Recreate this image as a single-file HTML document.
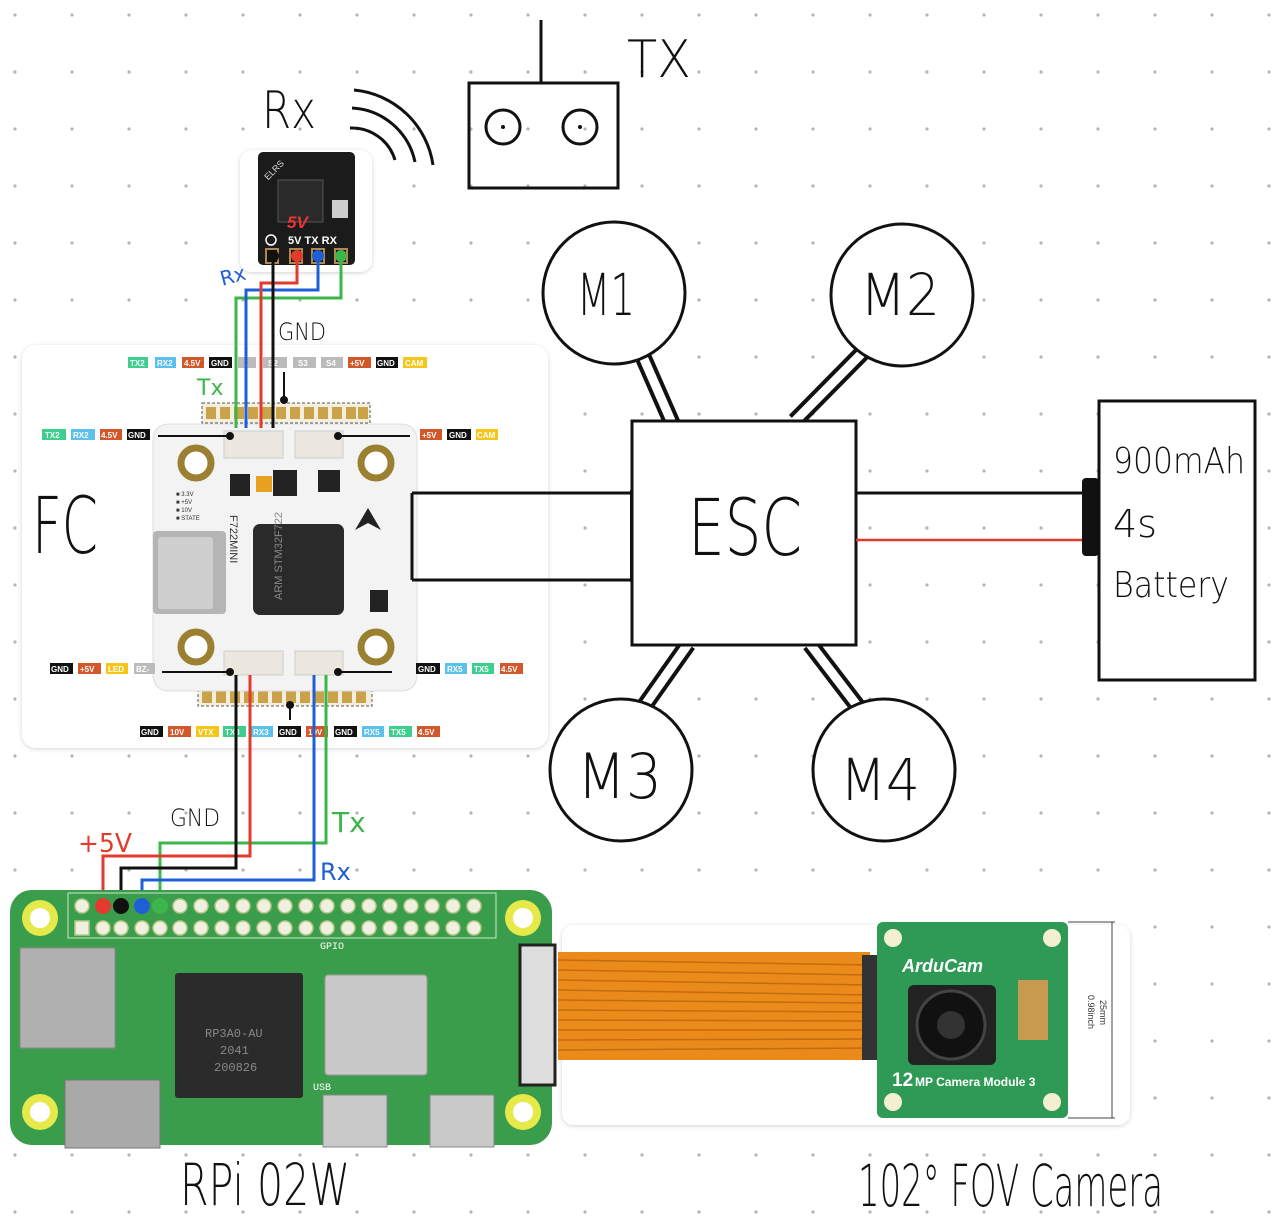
<!DOCTYPE html>
<html><head><meta charset="utf-8"><style>
html,body{margin:0;padding:0;background:#fff}
svg{display:block}
.h{font-family:"DejaVu Sans","Liberation Sans",sans-serif;fill:#111;font-weight:200}
.lb{font-family:"Liberation Sans",sans-serif;font-size:8px;fill:#fff;font-weight:bold}
</style></head><body>
<svg width="1280" height="1231" viewBox="0 0 1280 1231" xmlns="http://www.w3.org/2000/svg">
<defs>
<pattern id="dots" x="-13.5" y="-13.5" width="57" height="57" patternUnits="userSpaceOnUse">
<circle cx="28.5" cy="28.5" r="1.6" fill="#b5b5b5"/></pattern>
<filter id="sh" x="-5%" y="-5%" width="110%" height="110%"><feDropShadow dx="0" dy="1" stdDeviation="2" flood-color="#000" flood-opacity="0.18"/></filter>
</defs>
<rect width="1280" height="1231" fill="url(#dots)"/>

<line x1="541" y1="20" x2="541" y2="83" stroke="#111" stroke-width="3"/>
<rect x="469" y="83" width="149" height="105" fill="none" stroke="#111" stroke-width="3"/>
<circle cx="503" cy="127" r="17" fill="none" stroke="#111" stroke-width="3"/>
<circle cx="503" cy="127" r="2" fill="#111"/>
<circle cx="580" cy="127" r="17" fill="none" stroke="#111" stroke-width="3"/>
<circle cx="580" cy="127" r="2" fill="#111"/>
<text x="627" y="77" class="h" font-size="52" textLength="64" lengthAdjust="spacingAndGlyphs">TX</text>

<text x="262" y="128" class="h" font-size="52" textLength="54" lengthAdjust="spacingAndGlyphs">Rx</text>
<g fill="none" stroke="#111" stroke-width="3">
<path d="M350 128 A45 45 0 0 1 395 160"/>
<path d="M352 108 A68 68 0 0 1 415 162"/>
<path d="M354 90 A88 88 0 0 1 433 165"/>
</g>

<rect x="240" y="150" width="132" height="122" rx="12" fill="#fff" filter="url(#sh)"/>
<rect x="258" y="152" width="97" height="113" rx="5" fill="#1b1b1b"/>
<rect x="278" y="180" width="45" height="42" fill="#2a2a2a" stroke="#555"/>
<rect x="332" y="200" width="16" height="18" fill="#ccc"/>
<text x="262" y="178" font-family="Liberation Sans" font-size="9" fill="#ddd" transform="rotate(-45 268 172)">ELRS</text>
<text x="287" y="228" font-family="Liberation Sans" font-size="17" font-weight="bold" fill="#e33" font-style="italic">5V</text>
<text x="288" y="244" font-family="Liberation Sans" font-size="11" font-weight="bold" fill="#fff">5V TX RX</text>
<circle cx="271" cy="240" r="5" fill="none" stroke="#fff" stroke-width="1.5"/>
<g stroke="#b08850" stroke-width="2"><rect x="266" y="249" width="12" height="14" fill="#111"/><rect x="290" y="249" width="12" height="14" fill="#111"/><rect x="312" y="249" width="12" height="14" fill="#111"/><rect x="335" y="249" width="12" height="14" fill="#111"/></g>

<rect x="22" y="345" width="526" height="403" rx="14" fill="#fff" filter="url(#sh)"/>
<text x="32" y="553" class="h" font-size="78" textLength="66" lengthAdjust="spacingAndGlyphs">FC</text>
<rect x="202" y="403" width="168" height="20" fill="#f4eedd" stroke="#555" stroke-dasharray="3 2"/>
<g fill="#c9a24a">
<rect x="206" y="407" width="10" height="12"/><rect x="220" y="407" width="10" height="12"/><rect x="234" y="407" width="10" height="12"/><rect x="248" y="407" width="10" height="12"/><rect x="262" y="407" width="10" height="12"/><rect x="276" y="407" width="10" height="12"/><rect x="290" y="407" width="10" height="12"/><rect x="304" y="407" width="10" height="12"/><rect x="318" y="407" width="10" height="12"/><rect x="332" y="407" width="10" height="12"/><rect x="346" y="407" width="10" height="12"/><rect x="358" y="407" width="10" height="12"/>
</g>
<rect x="198" y="688" width="174" height="18" fill="#f4eedd" stroke="#555" stroke-dasharray="3 2"/>
<g fill="#c9a24a">
<rect x="202" y="691" width="10" height="12"/><rect x="216" y="691" width="10" height="12"/><rect x="230" y="691" width="10" height="12"/><rect x="244" y="691" width="10" height="12"/><rect x="258" y="691" width="10" height="12"/><rect x="272" y="691" width="10" height="12"/><rect x="286" y="691" width="10" height="12"/><rect x="300" y="691" width="10" height="12"/><rect x="314" y="691" width="10" height="12"/><rect x="328" y="691" width="10" height="12"/><rect x="342" y="691" width="10" height="12"/><rect x="356" y="691" width="10" height="12"/>
</g>
<path d="M170 424 H400 Q417 424 417 441 V674 Q417 691 400 691 H170 Q153 691 153 674 V441 Q153 424 170 424Z" fill="#f3f3f3" stroke="#ddd"/>
<rect x="224" y="431" width="59" height="27" fill="#ebe7de" stroke="#ccc"/>
<rect x="295" y="431" width="48" height="27" fill="#ebe7de" stroke="#ccc"/>
<rect x="224" y="651" width="59" height="24" fill="#ebe7de" stroke="#ccc"/>
<rect x="295" y="651" width="48" height="24" fill="#ebe7de" stroke="#ccc"/>
<g fill="#fff" stroke="#9a8030" stroke-width="7">
<circle cx="196" cy="463" r="15"/><circle cx="376" cy="463" r="15"/><circle cx="196" cy="647" r="15"/><circle cx="376" cy="647" r="15"/>
</g>
<rect x="153" y="531" width="73" height="83" rx="4" fill="#b5b5b5"/>
<rect x="158" y="537" width="55" height="72" rx="3" fill="#cfcfcf"/>
<rect x="253" y="524" width="91" height="91" rx="7" fill="#2a2a2a"/>
<text x="282" y="600" font-family="Liberation Sans" font-size="11" fill="#888" transform="rotate(-90 282 600)">ARM STM32F722</text>
<text x="230" y="515" font-family="Liberation Sans" font-size="11" fill="#333" transform="rotate(90 230 515)">F722MINI</text>
<rect x="230" y="474" width="20" height="22" fill="#222"/><rect x="256" y="476" width="16" height="16" fill="#e8a020"/><rect x="273" y="470" width="24" height="26" fill="#222"/><rect x="318" y="470" width="22" height="22" fill="#222"/><rect x="370" y="590" width="18" height="22" fill="#222"/>
<path d="M355 530 L368 508 L381 530 L368 523Z" fill="#222"/>
<text x="176" y="496" font-family="Liberation Sans" font-size="6" fill="#333">■ 3.3V</text>
<text x="176" y="504" font-family="Liberation Sans" font-size="6" fill="#333">■ +5V</text>
<text x="176" y="512" font-family="Liberation Sans" font-size="6" fill="#333">■ 10V</text>
<text x="176" y="520" font-family="Liberation Sans" font-size="6" fill="#333">■ STATE</text>
<g stroke="#111" stroke-width="2">
<line x1="158" y1="436" x2="230" y2="436"/><line x1="338" y1="436" x2="410" y2="436"/>
<line x1="162" y1="672" x2="230" y2="672"/><line x1="338" y1="672" x2="392" y2="672"/>
<line x1="284" y1="372" x2="284" y2="400"/><line x1="290" y1="705" x2="290" y2="720"/>
</g>
<g fill="#111"><circle cx="230" cy="436" r="4"/><circle cx="338" cy="436" r="4"/><circle cx="230" cy="672" r="4"/><circle cx="338" cy="672" r="4"/><circle cx="284" cy="400" r="4"/><circle cx="290" cy="705" r="4"/></g>

<g>
<rect x="128" y="357" width="20" height="11" fill="#3ecf8e"/><text x="130" y="366" class="lb">TX2</text>
<rect x="155" y="357" width="21" height="11" fill="#5bc0eb"/><text x="157" y="366" class="lb">RX2</text>
<rect x="182" y="357" width="22" height="11" fill="#d2572a"/><text x="184" y="366" class="lb">4.5V</text>
<rect x="209" y="357" width="23" height="11" fill="#111"/><text x="211" y="366" class="lb">GND</text>
<rect x="238" y="357" width="18" height="11" fill="#bbb"/><text x="244" y="366" class="lb">1</text>
<rect x="263" y="357" width="24" height="11" fill="#bbb"/><text x="268" y="366" class="lb">S2</text>
<rect x="293" y="357" width="23" height="11" fill="#bbb"/><text x="298" y="366" class="lb">S3</text>
<rect x="321" y="357" width="22" height="11" fill="#bbb"/><text x="326" y="366" class="lb">S4</text>
<rect x="348" y="357" width="23" height="11" fill="#d2572a"/><text x="350" y="366" class="lb">+5V</text>
<rect x="376" y="357" width="22" height="11" fill="#111"/><text x="377" y="366" class="lb">GND</text>
<rect x="403" y="357" width="24" height="11" fill="#f5c518"/><text x="405" y="366" class="lb">CAM</text>
<rect x="42" y="429" width="24" height="11" fill="#3ecf8e"/><text x="45" y="438" class="lb">TX2</text>
<rect x="71" y="429" width="24" height="11" fill="#5bc0eb"/><text x="73" y="438" class="lb">RX2</text>
<rect x="100" y="429" width="22" height="11" fill="#d2572a"/><text x="101" y="438" class="lb">4.5V</text>
<rect x="127" y="429" width="23" height="11" fill="#111"/><text x="128" y="438" class="lb">GND</text>
<rect x="420" y="429" width="22" height="11" fill="#d2572a"/><text x="422" y="438" class="lb">+5V</text>
<rect x="447" y="429" width="24" height="11" fill="#111"/><text x="449" y="438" class="lb">GND</text>
<rect x="476" y="429" width="22" height="11" fill="#f5c518"/><text x="477" y="438" class="lb">CAM</text>
<rect x="50" y="663" width="23" height="11" fill="#111"/><text x="51" y="672" class="lb">GND</text>
<rect x="78" y="663" width="23" height="11" fill="#d2572a"/><text x="80" y="672" class="lb">+5V</text>
<rect x="106" y="663" width="22" height="11" fill="#f5c518"/><text x="108" y="672" class="lb">LED</text>
<rect x="134" y="663" width="21" height="11" fill="#bbb"/><text x="136" y="672" class="lb">BZ-</text>
<rect x="416" y="663" width="24" height="11" fill="#111"/><text x="418" y="672" class="lb">GND</text>
<rect x="445" y="663" width="22" height="11" fill="#5bc0eb"/><text x="447" y="672" class="lb">RX5</text>
<rect x="472" y="663" width="22" height="11" fill="#3ecf8e"/><text x="474" y="672" class="lb">TX5</text>
<rect x="500" y="663" width="23" height="11" fill="#d2572a"/><text x="501" y="672" class="lb">4.5V</text>
<rect x="140" y="726" width="23" height="11" fill="#111"/><text x="141" y="735" class="lb">GND</text>
<rect x="168" y="726" width="23" height="11" fill="#d2572a"/><text x="170" y="735" class="lb">10V</text>
<rect x="196" y="726" width="23" height="11" fill="#f5c518"/><text x="198" y="735" class="lb">VTX</text>
<rect x="223" y="726" width="23" height="11" fill="#3ecf8e"/><text x="225" y="735" class="lb">TX3</text>
<rect x="251" y="726" width="22" height="11" fill="#5bc0eb"/><text x="253" y="735" class="lb">RX3</text>
<rect x="278" y="726" width="23" height="11" fill="#111"/><text x="279" y="735" class="lb">GND</text>
<rect x="306" y="726" width="22" height="11" fill="#d2572a"/><text x="308" y="735" class="lb">10V</text>
<rect x="334" y="726" width="23" height="11" fill="#111"/><text x="335" y="735" class="lb">GND</text>
<rect x="362" y="726" width="22" height="11" fill="#5bc0eb"/><text x="364" y="735" class="lb">RX5</text>
<rect x="389" y="726" width="23" height="11" fill="#3ecf8e"/><text x="391" y="735" class="lb">TX5</text>
<rect x="417" y="726" width="23" height="11" fill="#d2572a"/><text x="418" y="735" class="lb">4.5V</text>
</g>

<g fill="none" stroke-width="3">
<path d="M341 258 V298 H236 V428" stroke="#3cb54a"/>
<path d="M318 258 V290 H246 V428" stroke="#1f5fd6"/>
<path d="M297 258 V283 H261 V428" stroke="#e23b2e"/>
<path d="M273 258 V428" stroke="#111"/>
</g>
<g fill="#111"><circle cx="273" cy="256" r="6"/></g>
<circle cx="297" cy="256" r="6" fill="#e23b2e"/><circle cx="318" cy="256" r="6" fill="#1f5fd6"/><circle cx="341" cy="256" r="6" fill="#3cb54a"/>
<text x="220" y="283" font-family="DejaVu Sans" font-size="20" fill="#1f5fd6" transform="rotate(-15 232 276)">Rx</text>
<text x="278" y="340" class="h" font-size="24" textLength="48" lengthAdjust="spacingAndGlyphs">GND</text>
<text x="197" y="395" font-family="DejaVu Sans" font-size="22" fill="#3cb54a">Tx</text>

<g fill="none" stroke-width="3">
<path d="M326 675 V843 H160 V905" stroke="#3cb54a"/>
<path d="M250 675 V856 H103 V905" stroke="#e23b2e"/>
<path d="M236 675 V868 H121 V905" stroke="#111"/>
<path d="M314 675 V880 H142 V905" stroke="#1f5fd6"/>
</g>
<text x="170" y="826" class="h" font-size="24" textLength="50" lengthAdjust="spacingAndGlyphs">GND</text>
<text x="78" y="852" font-family="DejaVu Sans" font-size="26" fill="#e23b2e" textLength="54" lengthAdjust="spacingAndGlyphs">+5V</text>
<text x="332" y="832" font-family="DejaVu Sans" font-size="28" fill="#3cb54a">Tx</text>
<text x="320" y="880" font-family="DejaVu Sans" font-size="24" fill="#1f5fd6">Rx</text>

<g stroke="#111" stroke-width="3" fill="none">
<line x1="412" y1="493" x2="636" y2="493"/><line x1="412" y1="580" x2="636" y2="580"/>
<line x1="412" y1="493" x2="412" y2="580"/>
</g>
<rect x="630" y="490" width="10" height="92" fill="#111"/>

<g stroke-linecap="butt">
<line x1="640" y1="350" x2="672" y2="423" stroke="#111" stroke-width="17"/><line x1="640" y1="350" x2="672" y2="423" stroke="#fff" stroke-width="9"/>
<line x1="870" y1="345" x2="795" y2="421" stroke="#111" stroke-width="17"/><line x1="870" y1="345" x2="795" y2="421" stroke="#fff" stroke-width="9"/>
<line x1="688" y1="644" x2="640" y2="712" stroke="#111" stroke-width="17"/><line x1="688" y1="644" x2="640" y2="712" stroke="#fff" stroke-width="9"/>
<line x1="810" y1="644" x2="862" y2="712" stroke="#111" stroke-width="17"/><line x1="810" y1="644" x2="862" y2="712" stroke="#fff" stroke-width="9"/>
</g>
<g fill="#fff" stroke="#111" stroke-width="3">
<circle cx="614" cy="293" r="71"/><circle cx="902" cy="295" r="71"/><circle cx="621" cy="770" r="71"/><circle cx="884" cy="770" r="71"/>
</g>
<text x="577" y="315" class="h" font-size="58" textLength="58" lengthAdjust="spacingAndGlyphs">M1</text>
<text x="860" y="315" class="h" font-size="58" textLength="80" lengthAdjust="spacingAndGlyphs">M2</text>
<text x="577" y="798" class="h" font-size="62" textLength="85" lengthAdjust="spacingAndGlyphs">M3</text>
<text x="840" y="800" class="h" font-size="58" textLength="80" lengthAdjust="spacingAndGlyphs">M4</text>

<rect x="632" y="421" width="224" height="224" fill="#fff" stroke="#111" stroke-width="3"/>
<text x="688" y="555" class="h" font-size="78" textLength="114" lengthAdjust="spacingAndGlyphs">ESC</text>

<line x1="856" y1="493" x2="1088" y2="493" stroke="#111" stroke-width="3"/>
<line x1="856" y1="540" x2="1088" y2="540" stroke="#e23b2e" stroke-width="2.5"/>
<rect x="1082" y="478" width="17" height="78" rx="4" fill="#111"/>
<rect x="1099" y="401" width="156" height="279" fill="#fff" stroke="#111" stroke-width="3"/>
<text x="1113" y="473" class="h" font-size="36" textLength="132" lengthAdjust="spacingAndGlyphs">900mAh</text>
<text x="1113" y="537" class="h" font-size="38">4s</text>
<text x="1113" y="597" class="h" font-size="36" textLength="116" lengthAdjust="spacingAndGlyphs">Battery</text>

<rect x="10" y="890" width="542" height="255" rx="22" fill="#3a9d4b"/>
<rect x="68" y="893" width="428" height="45" fill="none" stroke="#cde8cc" stroke-width="1"/>
<g><circle cx="40" cy="918" r="18" fill="#e6e94a"/><circle cx="523" cy="918" r="18" fill="#e6e94a"/><circle cx="40" cy="1112" r="18" fill="#e6e94a"/><circle cx="523" cy="1112" r="18" fill="#e6e94a"/></g>
<g fill="#fff"><circle cx="40" cy="918" r="10"/><circle cx="523" cy="918" r="10"/><circle cx="40" cy="1112" r="10"/><circle cx="523" cy="1112" r="10"/></g>
<g fill="#f0f0e0" stroke="#b8c78a" stroke-width="1.5">
<circle cx="82" cy="906" r="7"/><circle cx="103" cy="906" r="7"/><circle cx="121" cy="906" r="7"/><circle cx="142" cy="906" r="7"/><circle cx="160" cy="906" r="7"/><circle cx="180" cy="906" r="7"/><circle cx="201" cy="906" r="7"/><circle cx="222" cy="906" r="7"/><circle cx="243" cy="906" r="7"/><circle cx="264" cy="906" r="7"/><circle cx="285" cy="906" r="7"/><circle cx="306" cy="906" r="7"/><circle cx="327" cy="906" r="7"/><circle cx="348" cy="906" r="7"/><circle cx="369" cy="906" r="7"/><circle cx="390" cy="906" r="7"/><circle cx="411" cy="906" r="7"/><circle cx="432" cy="906" r="7"/><circle cx="453" cy="906" r="7"/><circle cx="474" cy="906" r="7"/>
<rect x="75" y="921" width="14" height="14"/><circle cx="103" cy="928" r="7"/><circle cx="121" cy="928" r="7"/><circle cx="142" cy="928" r="7"/><circle cx="160" cy="928" r="7"/><circle cx="180" cy="928" r="7"/><circle cx="201" cy="928" r="7"/><circle cx="222" cy="928" r="7"/><circle cx="243" cy="928" r="7"/><circle cx="264" cy="928" r="7"/><circle cx="285" cy="928" r="7"/><circle cx="306" cy="928" r="7"/><circle cx="327" cy="928" r="7"/><circle cx="348" cy="928" r="7"/><circle cx="369" cy="928" r="7"/><circle cx="390" cy="928" r="7"/><circle cx="411" cy="928" r="7"/><circle cx="432" cy="928" r="7"/><circle cx="453" cy="928" r="7"/><circle cx="474" cy="928" r="7"/>
</g>
<circle cx="103" cy="906" r="8" fill="#e23b2e"/><circle cx="121" cy="906" r="8" fill="#111"/><circle cx="142" cy="906" r="8" fill="#1f5fd6"/><circle cx="160" cy="906" r="8" fill="#3cb54a"/>
<rect x="20" y="948" width="95" height="100" fill="#b0b0b0" stroke="#888"/>
<rect x="175" y="973" width="128" height="125" rx="3" fill="#2b2b2b"/>
<text x="205" y="1037" font-family="Liberation Mono" font-size="12" fill="#888">RP3A0-AU</text>
<text x="220" y="1054" font-family="Liberation Mono" font-size="12" fill="#888">2041</text>
<text x="214" y="1071" font-family="Liberation Mono" font-size="12" fill="#888">200826</text>
<rect x="325" y="975" width="102" height="100" rx="3" fill="#c8c8c8" stroke="#999"/>
<rect x="65" y="1080" width="95" height="68" fill="#a9a9a9" stroke="#777"/>
<rect x="323" y="1095" width="64" height="52" fill="#c9c9c9" stroke="#888"/>
<rect x="430" y="1095" width="64" height="52" fill="#c9c9c9" stroke="#888"/>
<rect x="520" y="945" width="35" height="140" fill="#ddd" stroke="#222" stroke-width="3"/>
<text x="320" y="949" font-family="Liberation Mono" font-size="10" fill="#fff">GPIO</text>
<text x="313" y="1090" font-family="Liberation Mono" font-size="10" fill="#fff">USB</text>
<text x="180" y="1205" class="h" font-size="58" textLength="170" lengthAdjust="spacingAndGlyphs">RPi 02W</text>

<rect x="562" y="925" width="568" height="200" rx="12" fill="#fff" filter="url(#sh)"/>
<rect x="558" y="952" width="312" height="108" fill="#e98a1a"/>
<g stroke="#c56a10" stroke-width="1.5">
<line x1="558" y1="960" x2="870" y2="965"/><line x1="558" y1="970" x2="870" y2="975"/><line x1="558" y1="980" x2="870" y2="985"/><line x1="558" y1="990" x2="870" y2="995"/><line x1="558" y1="1000" x2="870" y2="1003"/><line x1="558" y1="1010" x2="870" y2="1012"/><line x1="558" y1="1020" x2="870" y2="1021"/><line x1="558" y1="1030" x2="870" y2="1030"/><line x1="558" y1="1040" x2="870" y2="1039"/><line x1="558" y1="1050" x2="870" y2="1048"/>
</g>
<rect x="862" y="955" width="20" height="105" fill="#333"/>
<rect x="877" y="922" width="191" height="196" rx="6" fill="#2e9a55"/>
<g fill="#f3f0d0"><circle cx="893" cy="938" r="9"/><circle cx="1052" cy="938" r="9"/><circle cx="893" cy="1102" r="9"/><circle cx="1052" cy="1102" r="9"/></g>
<text x="902" y="972" font-family="Liberation Sans" font-size="18" font-style="italic" font-weight="bold" fill="#fff">ArduCam</text>
<rect x="908" y="985" width="88" height="80" rx="6" fill="#222"/>
<circle cx="951" cy="1025" r="34" fill="#111" stroke="#444" stroke-width="3"/>
<circle cx="951" cy="1025" r="14" fill="#333"/>
<rect x="1018" y="980" width="30" height="60" fill="#c89a50"/>
<text x="892" y="1086" font-family="Liberation Sans" font-size="19" font-weight="bold" fill="#fff">12</text>
<text x="915" y="1086" font-family="Liberation Sans" font-size="12" font-weight="bold" fill="#fff">MP Camera Module 3</text>
<line x1="1068" y1="922" x2="1115" y2="922" stroke="#444"/><line x1="1068" y1="1118" x2="1115" y2="1118" stroke="#444"/><line x1="1112" y1="922" x2="1112" y2="1118" stroke="#444"/>
<text x="1100" y="1000" font-family="Liberation Sans" font-size="9" fill="#333" transform="rotate(90 1100 1000)">25mm</text>
<text x="1088" y="995" font-family="Liberation Sans" font-size="9" fill="#333" transform="rotate(90 1088 995)">0.98inch</text>
<text x="858" y="1206" class="h" font-size="58" textLength="305" lengthAdjust="spacingAndGlyphs">102° FOV Camera</text>
</svg>
</body></html>
